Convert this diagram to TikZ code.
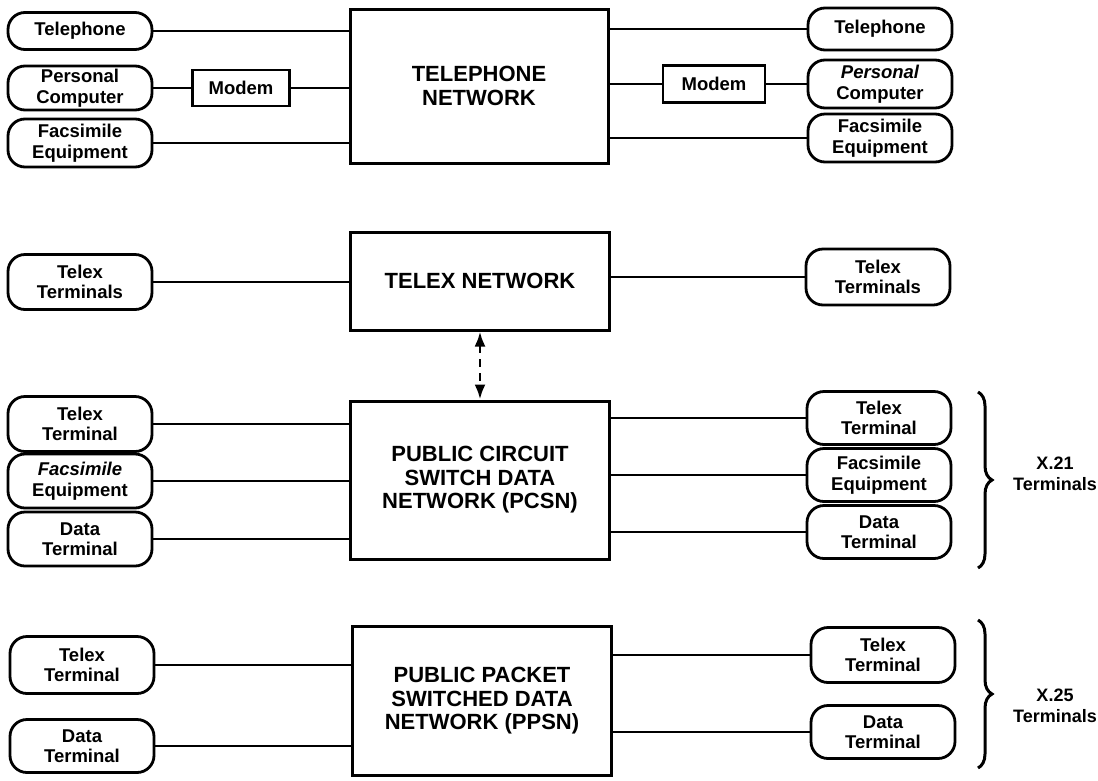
\documentclass[tikz,border=0pt]{standalone}
\usepackage{fontspec}
\setmainfont{Liberation Sans}
\usetikzlibrary{arrows.meta,decorations.pathreplacing}
\tikzset{
  pill/.style={draw,line width=2.8pt,rounded corners=17pt,minimum width=144pt,inner sep=0pt,align=center,
    font=\fontsize{18.5}{20.5}\selectfont\bfseries},
  netbox/.style={draw,line width=3pt,inner sep=0pt,align=center,
    font=\fontsize{22}{23.5}\selectfont\bfseries},
  modembox/.style={draw,line width=2.6pt,inner sep=0pt,align=center,
    font=\fontsize{18.5}{20.5}\selectfont\bfseries},
  wire/.style={line width=2.8pt},
  brc/.style={line width=3pt,decorate,decoration={brace,amplitude=14pt}},
  lbl/.style={align=center,inner sep=0pt,font=\fontsize{18}{21}\selectfont\bfseries}
}
\begin{document}
\begin{tikzpicture}[x=1pt,y=-1pt]
\useasboundingbox (0,0) rectangle (1098,780);
% ---------- Telephone network
\node[netbox,minimum width=258pt,minimum height=154pt] (tn) at (479,86) {TELEPHONE\\NETWORK};
\node[pill,minimum height=37pt] (l1) at (80,31) {Telephone};
\node[pill,minimum height=44pt] (l2) at (80,88) {Personal\\Computer};
\node[pill,minimum height=48pt] (l3) at (80,143) {Facsimile\\Equipment};
\node[modembox,minimum width=97pt,minimum height=36pt] (ml) at (241,88) {Modem};
\node[modembox,minimum width=102pt,minimum height=37pt] (mr) at (714,84) {Modem};
\node[pill,minimum height=42pt] (r1) at (880,29) {Telephone};
\node[pill,minimum height=48pt] (r2) at (880,84) {\itshape Personal\\Computer};
\node[pill,minimum height=48pt] (r3) at (880,138) {Facsimile\\Equipment};
\draw[wire] (l1.east) -- (l1.east -| tn.west);
\draw[wire] (l2.east) -- (ml.west);
\draw[wire] (ml.east) -- (ml.east -| tn.west);
\draw[wire] (l3.east) -- (l3.east -| tn.west);
\draw[wire] (r1.west) -- (r1.west -| tn.east);
\draw[wire] (r2.west) -- (mr.east);
\draw[wire] (mr.west) -- (mr.west -| tn.east);
\draw[wire] (r3.west) -- (r3.west -| tn.east);
% ---------- Telex network
\node[netbox,minimum width=259pt,minimum height=98pt] (tx) at (480,281) {TELEX NETWORK};
\node[pill,minimum height=55pt] (tl) at (80,282) {Telex\\Terminals};
\node[pill,minimum height=56pt] (tr) at (878,277) {Telex\\Terminals};
\draw[wire] (tl.east) -- (tl.east -| tx.west);
\draw[wire] (tr.west) -- (tr.west -| tx.east);
% ---------- PCSN
\node[netbox,minimum width=259pt,minimum height=158pt] (pc) at (480,480) {PUBLIC CIRCUIT\\SWITCH DATA\\NETWORK (PCSN)};
\draw[wire,dash pattern=on 8pt off 6pt,{Latex[length=15pt,width=11pt]}-{Latex[length=15pt,width=11pt]}] (tx.south) -- (pc.north);
\node[pill,minimum height=55pt] (pl1) at (80,424) {Telex\\Terminal};
\node[pill,minimum height=54pt] (pl2) at (80,481) {\itshape Facsimile\\Equipment};
\node[pill,minimum height=54pt] (pl3) at (80,539) {Data\\Terminal};
\node[pill,minimum height=53pt] (pr1) at (879,418) {Telex\\Terminal};
\node[pill,minimum height=53pt] (pr2) at (879,475) {Facsimile\\Equipment};
\node[pill,minimum height=53pt] (pr3) at (879,532) {Data\\Terminal};
\foreach \n in {pl1,pl2,pl3} \draw[wire] (\n.east) -- (\n.east -| pc.west);
\foreach \n in {pr1,pr2,pr3} \draw[wire] (\n.west) -- (\n.west -| pc.east);
\coordinate (b1t) at (978,392);
\coordinate (b1b) at (978,568);
\draw[brc] (b1t) -- (b1b);
\node[lbl] (x21) at (1055,474) {X.21\\Terminals};
% ---------- PPSN
\node[netbox,minimum width=259pt,minimum height=149pt] (pp) at (482,701) {PUBLIC PACKET\\SWITCHED DATA\\NETWORK (PPSN)};
\node[pill,minimum height=57pt] (ql1) at (82,665) {Telex\\Terminal};
\node[pill,minimum height=53pt] (ql2) at (82,746) {Data\\Terminal};
\node[pill,minimum height=55pt] (qr1) at (883,655) {Telex\\Terminal};
\node[pill,minimum height=53pt] (qr2) at (883,732) {Data\\Terminal};
\foreach \n in {ql1,ql2} \draw[wire] (\n.east) -- (\n.east -| pp.west);
\foreach \n in {qr1,qr2} \draw[wire] (\n.west) -- (\n.west -| pp.east);
\coordinate (b2t) at (978,620);
\coordinate (b2b) at (978,768);
\draw[brc] (b2t) -- (b2b);
\node[lbl] (x25) at (1055,706) {X.25\\Terminals};
\end{tikzpicture}
\end{document}
